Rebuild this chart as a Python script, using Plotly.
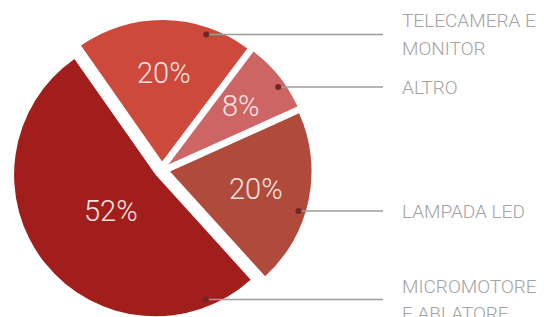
import math
import plotly.graph_objects as go

# ---- data ----
categories = ["TELECAMERA E<br>MONITOR", "ALTRO", "LAMPADA LED", "MICROMOTORE<br>E ABLATORE"]
values = [20, 8, 20, 52]
colors = ["#CD493B", "#CE6565", "#B04A3B", "#A11E1C"]

# ---- layout constants (page pixels) ----
W, H = 544, 317
OFF = 8                      # default body margin of the html page
CX, CY = 162, 169.7          # pie centre on the page
R = 141.5                    # pie radius
PULL = 0.058
ROTATION = -35               # first slice starts 35deg left of 12 o'clock
LABEL_X = 401
LINE_END_X = 383
LABEL_Y = [34.5, 87, 211, 299.5]
LINE_GAP = 27
DOT_FRAC = 0.95

half = R * (1 + PULL)
fcx, fcy = CX - OFF, CY - OFF
dom_x = [max(0, (fcx - half - 4) / W), (fcx + half + 4) / W]
dom_y = [(H - (fcy + half)) / H, (H - (fcy - half)) / H]


def px(x):
    return (x - OFF) / W


def py(y):
    return 1 - (y - OFF) / H


fig = go.Figure(go.Pie(
    values=values,
    labels=[c.replace("<br>", " ") for c in categories],
    sort=False,
    direction="clockwise",
    rotation=ROTATION,
    pull=PULL,
    marker=dict(colors=colors, line=dict(width=0)),
    textinfo="none",
    hoverinfo="label+value",
    showlegend=False,
    domain=dict(x=dom_x, y=dom_y),
))

# percentage texts, leader lines, dots and labels
total = sum(values)
start = 90 - ROTATION  # math angle (deg) where first slice starts
shapes = []
annotations = []
for cat, v, ly in zip(categories, values, LABEL_Y):
    span = 360 * v / total
    mid = math.radians(start - span / 2)
    start -= span
    # centre of the pulled slice
    scx = CX + PULL * R * math.cos(mid)
    scy = CY - PULL * R * math.sin(mid)
    # percentage at the sector centroid
    th = math.radians(span)
    rc = 4 * R * math.sin(th / 2) / (3 * th)
    annotations.append(dict(text=f"{v}%", xref="paper", yref="paper",
                            x=px(scx + rc * math.cos(mid)), y=py(scy - rc * math.sin(mid)),
                            xanchor="center", yanchor="middle", showarrow=False, borderpad=0,
                            font=dict(family="Roboto", size=29, color="#F5E4E2", weight=300)))
    # leader line + dot
    rd = DOT_FRAC * R
    dy = ly - scy
    dx = math.sqrt(max(rd * rd - dy * dy, 0))
    dot_x = scx + dx
    shapes.append(dict(type="line", xref="paper", yref="paper",
                       x0=px(dot_x), x1=px(LINE_END_X), y0=py(ly), y1=py(ly),
                       line=dict(color="#9C9C9C", width=1.5)))
    shapes.append(dict(type="circle", xref="paper", yref="paper",
                       x0=px(dot_x - 3), x1=px(dot_x + 3),
                       y0=py(ly + 3), y1=py(ly - 3),
                       fillcolor="#6B2823", line=dict(width=0)))
    lines = cat.split("<br>")
    n = len(lines)
    for i, t in enumerate(lines):
        y = ly + (i - (n - 1) / 2) * LINE_GAP
        annotations.append(dict(text=t, xref="paper", yref="paper",
                                x=px(LABEL_X), y=py(y), xanchor="left", yanchor="middle",
                                align="left", showarrow=False, borderpad=0,
                                font=dict(family="Roboto", size=19, color="#A3A3A3", weight=300)))

fig.update_layout(
    width=W, height=H,
    margin=dict(l=0, r=0, t=0, b=0),
    paper_bgcolor="white",
    plot_bgcolor="white",
    shapes=shapes,
    annotations=annotations,
)

fig.write_html("out.html")
